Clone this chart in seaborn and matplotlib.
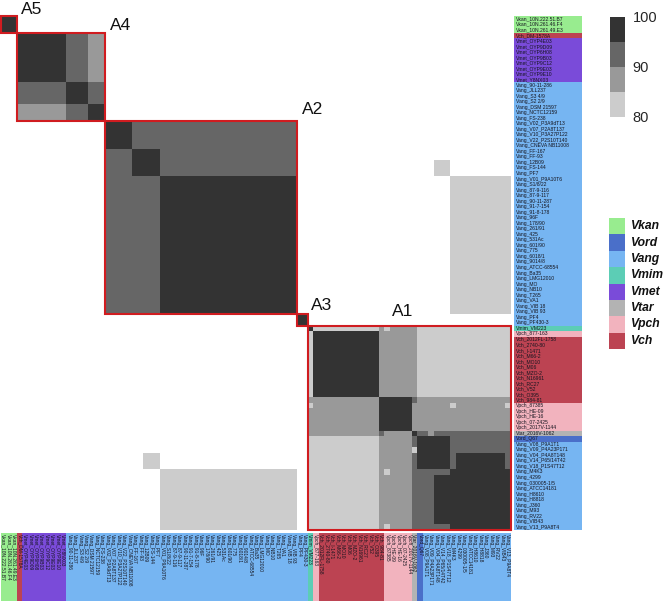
"""
Pairwise ANI heatmap of Vibrio strains, with species strips along the right and bottom.
"""

import numpy as np
import matplotlib
matplotlib.use("Agg")
import matplotlib.pyplot as plt
from matplotlib.colors import ListedColormap
from matplotlib.patches import Rectangle
import seaborn as sns

W, H = 665, 601

sns.set_style("white")
plt.rcParams["font.family"] = ["Liberation Sans", "DejaVu Sans"]

strain_labels = [
    "Vkan_10N.222.51.B7", "Vkan_10N.261.46.F4", "Vkan_10N.261.49.E3",
    "Vch_DM-1578A",
    "Vmet_OYP4E03", "Vmet_OYP9D09", "Vmet_OYP6H08", "Vmet_OYP9B03",
    "Vmet_OYP9C12", "Vmet_OYP9E03", "Vmet_OYP9E10", "Vmet_Y8NX03",
    "Vang_90-11-286", "Vang_JLL237", "Vang_S3 4/9", "Vang_S2 2/9",
    "Vang_DSM 21597", "Vang_NCTC12159", "Vang_FS-238", "Vang_V02_P3A9dT13",
    "Vang_V07_P2A8T137", "Vang_V10_P3A27P122", "Vang_V22_P2S10T140",
    "Vang_CNEVA NB11008", "Vang_FF-167", "Vang_FF-93", "Vang_12B09",
    "Vang_FS-144", "Vang_PF7", "Vang_V01_P9A10T6", "Vang_S1/8/22",
    "Vang_87-9-116", "Vang_87-9-117", "Vang_90-11-287", "Vang_91-7-154",
    "Vang_91-8-178", "Vang_96F", "Vang_178/90", "Vang_261/91", "Vang_425",
    "Vang_531Ac", "Vang_601/90", "Vang_775", "Vang_6018/1", "Vang_9014/8",
    "Vang_ATCC-68554", "Vang_Ba35", "Vang_LMG12010", "Vang_MO", "Vang_NB10",
    "Vang_T265", "Vang_VA1", "Vang_VIB 18", "Vang_VIB 93", "Vang_PF4",
    "Vang_PF430-3",
    "Vmim_VM223",
    "Vpch_877-163",
    "Vch_2012FL-1758", "Vch_2740-80", "Vch_I-1471", "Vch_M66-2", "Vch_MO10",
    "Vch_M06", "Vch_MZO-2", "Vch_N16961", "Vch_RC27", "Vch_V52", "Vch_O395",
    "Vch_984-81",
    "Vpch_87385", "Vpch_HE-09", "Vpch_HE-16", "Vpch_07-2425", "Vpch_2017V-1144",
    "Vtar_2016V-1062",
    "Vord_Q67",
    "Vang_V08_P9A1T1", "Vang_V09_P4A23P171", "Vang_V04_P4A8T148",
    "Vang_V14_P65/14T42", "Vang_V18_P1S47T12", "Vang_M4K3", "Vang_4299",
    "Vang_030005-1/5", "Vang_ATCC14181", "Vang_H8610", "Vang_H8818",
    "Vang_J360", "Vang_M93", "Vang_RV22", "Vang_VIB43", "Vang_V13_P9A8T4",
]

species_names = ["Vkan", "Vord", "Vang", "Vmim", "Vmet", "Vtar", "Vpch", "Vch"]
species_colors = ["#98EC8F", "#4A6FC9", "#76B5F2", "#5CCDB5",
                  "#7A4BD9", "#B3B3B3", "#F2B3BE", "#BC4352"]

ani_colors = ["#CCCCCC", "#999999", "#666666", "#333333"]
ani_ticks = [80, 90, 100]

# clusters as (name, first strain, last strain + 1)
clusters = [("A5", 0, 3), ("A4", 3, 19), ("A2", 19, 54), ("A3", 54, 56), ("A1", 56, 93)]

# ANI: (row from, row to, col from, col to, value)
upper_blocks = [
    (0, 3, 0, 3, 98),
    (3, 12, 3, 12, 98), (12, 16, 12, 16, 98), (16, 19, 16, 19, 98),
    (3, 12, 12, 16, 92), (12, 16, 3, 12, 92), (12, 16, 16, 19, 92), (16, 19, 12, 16, 92),
    (3, 12, 16, 19, 87), (16, 19, 3, 12, 87),
    (19, 54, 19, 54, 92),
    (19, 24, 19, 24, 98), (24, 29, 24, 29, 98), (29, 54, 29, 54, 98),
    (54, 56, 54, 56, 98),
    (26, 29, 79, 82, 82), (79, 82, 26, 29, 82),
    (29, 54, 82, 93, 82), (82, 93, 29, 54, 82),
]

# inside A1, counted from its first strain; later entries paint over earlier ones
a1_blocks = [
    (0, 13, 0, 13, 82), (1, 13, 1, 13, 98), (0, 1, 0, 1, 98),
    (0, 13, 13, 20, 87), (0, 1, 14, 15, 82), (0, 13, 20, 37, 82),
    (13, 20, 0, 13, 87), (13, 19, 13, 19, 98), (13, 19, 19, 37, 87),
    (13, 14, 19, 20, 92), (14, 15, 0, 1, 82), (14, 15, 26, 27, 82), (14, 15, 36, 37, 82),
    (19, 20, 13, 14, 92), (19, 20, 14, 19, 87), (19, 20, 19, 20, 98),
    (19, 20, 20, 37, 92), (19, 20, 22, 23, 87),
    (20, 37, 0, 13, 82), (20, 37, 13, 19, 87),
    (26, 27, 14, 15, 82), (36, 37, 14, 15, 82),
    (20, 37, 19, 37, 92), (22, 23, 19, 20, 82),
    (20, 26, 20, 26, 98), (23, 26, 27, 36, 98),
    (26, 37, 26, 37, 98), (27, 36, 23, 26, 98),
]


def px_axes(fig, x0, y0, x1, y1):
    return fig.add_axes([x0 / W, 1 - y1 / H, (x1 - x0) / W, (y1 - y0) / H])


n = len(strain_labels)
matrix = np.full((n, n), np.nan)
for r0, r1, c0, c1, val in upper_blocks:
    matrix[r0:r1, c0:c1] = val
for r0, r1, c0, c1, val in a1_blocks:
    matrix[56 + r0:56 + r1, 56 + c0:56 + c1] = val

species_idx = np.array([species_names.index(s.split("_")[0]) for s in strain_labels])
species_cmap = ListedColormap(species_colors)

fig = plt.figure(figsize=(W / 100, H / 100), dpi=100)

ax = px_axes(fig, 0.5, 16, 510.5, 530)
cax = px_axes(fig, 609.5, 17, 625, 116.5)
sns.heatmap(
    matrix, ax=ax, cbar_ax=cax,
    cmap=ListedColormap(ani_colors), vmin=80, vmax=100,
    xticklabels=False, yticklabels=False,
    cbar_kws={"ticks": ani_ticks},
)
cax.tick_params(length=0, labelsize=10.5, pad=5.5)
ax.collections[0].colorbar.outline.set_visible(False)

for name, start, stop in clusters:
    ax.add_patch(Rectangle((start, start), stop - start, stop - start, fill=False,
                           edgecolor="#D01C20", linewidth=1.5, clip_on=False, zorder=5))

# species strip, right
right = px_axes(fig, 514, 16, 582, 530)
sns.heatmap(species_idx.reshape(-1, 1), ax=right, cmap=species_cmap, vmin=-0.5, vmax=7.5,
            cbar=False, xticklabels=False, yticklabels=False)
for i, label in enumerate(strain_labels):
    right.text(0.03, i + 0.5, label, fontsize=3.6, color="#15151f", va="center", ha="left")

# species strip, bottom
bottom = px_axes(fig, 0.5, 533, 510.5, 601)
sns.heatmap(species_idx.reshape(1, -1), ax=bottom, cmap=species_cmap, vmin=-0.5, vmax=7.5,
            cbar=False, xticklabels=False, yticklabels=False)
for i, label in enumerate(strain_labels):
    bottom.text(i + 0.5, 0.02, label, fontsize=3.5, color="#15151f", rotation=-90,
                va="top", ha="center")

# species legend
legend = px_axes(fig, 609, 218, 625, 349)
sns.heatmap(np.arange(len(species_names)).reshape(-1, 1), ax=legend, cmap=species_cmap,
            vmin=-0.5, vmax=7.5, cbar=False, xticklabels=False, yticklabels=False)
for i, name in enumerate(species_names):
    legend.text(1.4, i + 0.5, name, fontsize=8.7, fontweight="bold", fontstyle="italic",
                color="#111111", va="center", ha="left", clip_on=False)

cluster_text = {"A5": (21, 9), "A4": (110, 25), "A2": (302, 109), "A3": (311, 305), "A1": (392, 311)}
for name, (x, y) in cluster_text.items():
    fig.text(x / W, 1 - y / H, name, fontsize=12.5, color="#111111", va="center", ha="left")

fig.savefig("out.png", dpi=100)
